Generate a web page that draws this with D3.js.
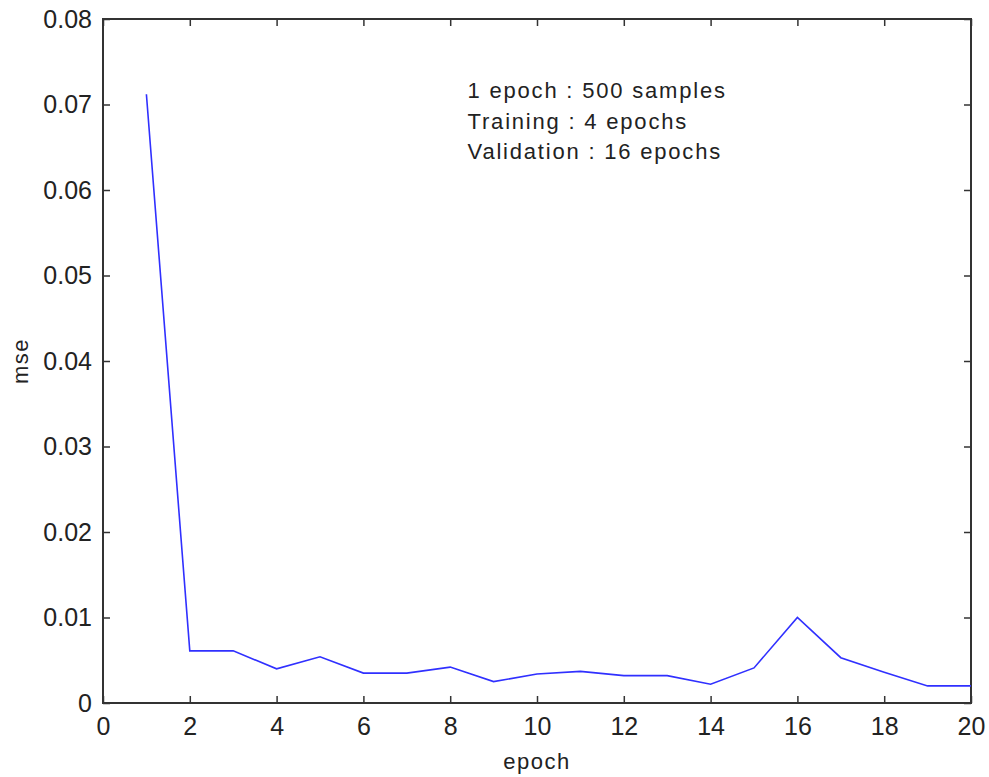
<!DOCTYPE html>
<html>
<head>
<meta charset="utf-8">
<script src="https://cdn.jsdelivr.net/npm/d3@7"></script>
<style>
  body { margin: 0; background: #fff; }
  text { font-family: "Liberation Sans", Arial, sans-serif; fill: #222; }
</style>
</head>
<body>
<svg width="989" height="777"></svg>
<script>
// data
const epochs = [1, 2, 3, 4, 5, 6, 7, 8, 9, 10, 11, 12, 13, 14, 15, 16, 17, 18, 19, 20];
const mse = [0.0712, 0.0061, 0.0061, 0.0040, 0.0054, 0.0035, 0.0035, 0.0042, 0.0025, 0.0034,
             0.0037, 0.0032, 0.0032, 0.0022, 0.0041, 0.0100, 0.0053, 0.0036, 0.0020, 0.0020];
const xTicks = [0, 2, 4, 6, 8, 10, 12, 14, 16, 18, 20];
const yTicks = [0, 0.01, 0.02, 0.03, 0.04, 0.05, 0.06, 0.07, 0.08];
const notes = ["1 epoch : 500 samples", "Training : 4 epochs", "Validation : 16 epochs"];

var svg = d3.select("svg");
var margin = { left: 103, right: 18, top: 19, bottom: 74 };
var width = +svg.attr("width") - margin.left - margin.right,
    height = +svg.attr("height") - margin.top - margin.bottom;

var g = svg.append("g").attr("transform", `translate(${margin.left},${margin.top})`);

var x = d3.scaleLinear().domain([0, 20]).range([0, width]);
var y = d3.scaleLinear().domain([0, 0.08]).range([height, 0]);

// ticks point inward on all four sides
function styleAxis(sel) {
    sel.select(".domain").remove();
    sel.selectAll("line").attr("stroke", "#333").attr("stroke-width", 1.5);
    sel.selectAll("text").style("font-size", "25px").attr("fill", "#222");
}

g.append("g").attr("transform", `translate(0,${height})`)
    .call(d3.axisBottom(x).tickValues(xTicks).tickSizeInner(-7).tickSizeOuter(0).tickPadding(14)
        .tickFormat(d3.format("d")))
    .call(styleAxis);

g.append("g")
    .call(d3.axisTop(x).tickValues(xTicks).tickSizeInner(-7).tickSizeOuter(0).tickFormat(""))
    .call(styleAxis);

g.append("g")
    .call(d3.axisLeft(y).tickValues(yTicks).tickSizeInner(-7).tickSizeOuter(0).tickPadding(11)
        .tickFormat(d => d === 0 ? "0" : d3.format(".2f")(d)))
    .call(styleAxis);

g.append("g").attr("transform", `translate(${width},0)`)
    .call(d3.axisRight(y).tickValues(yTicks).tickSizeInner(-7).tickSizeOuter(0).tickFormat(""))
    .call(styleAxis);

// box
g.append("rect")
    .attr("width", width).attr("height", height)
    .attr("fill", "none").attr("stroke", "#333").attr("stroke-width", 2);

var line = d3.line()
    .x((d, i) => x(epochs[i]))
    .y(d => y(d));

g.append("path")
    .datum(mse)
    .attr("fill", "none")
    .attr("stroke", "#3030ff")
    .attr("stroke-width", 1.6)
    .attr("d", line);

// annotation
g.append("g").selectAll("text")
    .data(notes)
    .enter().append("text")
    .attr("x", x(8.4))
    .attr("y", (d, i) => 79 + i * 30.5)
    .style("font-size", "22px")
    .style("letter-spacing", "1.8px")
    .text(d => d);

// axis labels
svg.append("text")
    .attr("x", margin.left + width / 2)
    .attr("y", 769)
    .attr("text-anchor", "middle")
    .style("font-size", "22px")
    .style("letter-spacing", "1.5px")
    .text("epoch");

svg.append("text")
    .attr("transform", `translate(28,${margin.top + height / 2}) rotate(-90)`)
    .attr("text-anchor", "middle")
    .style("font-size", "22px")
    .style("letter-spacing", "1.5px")
    .text("mse");
</script>
</body>
</html>
